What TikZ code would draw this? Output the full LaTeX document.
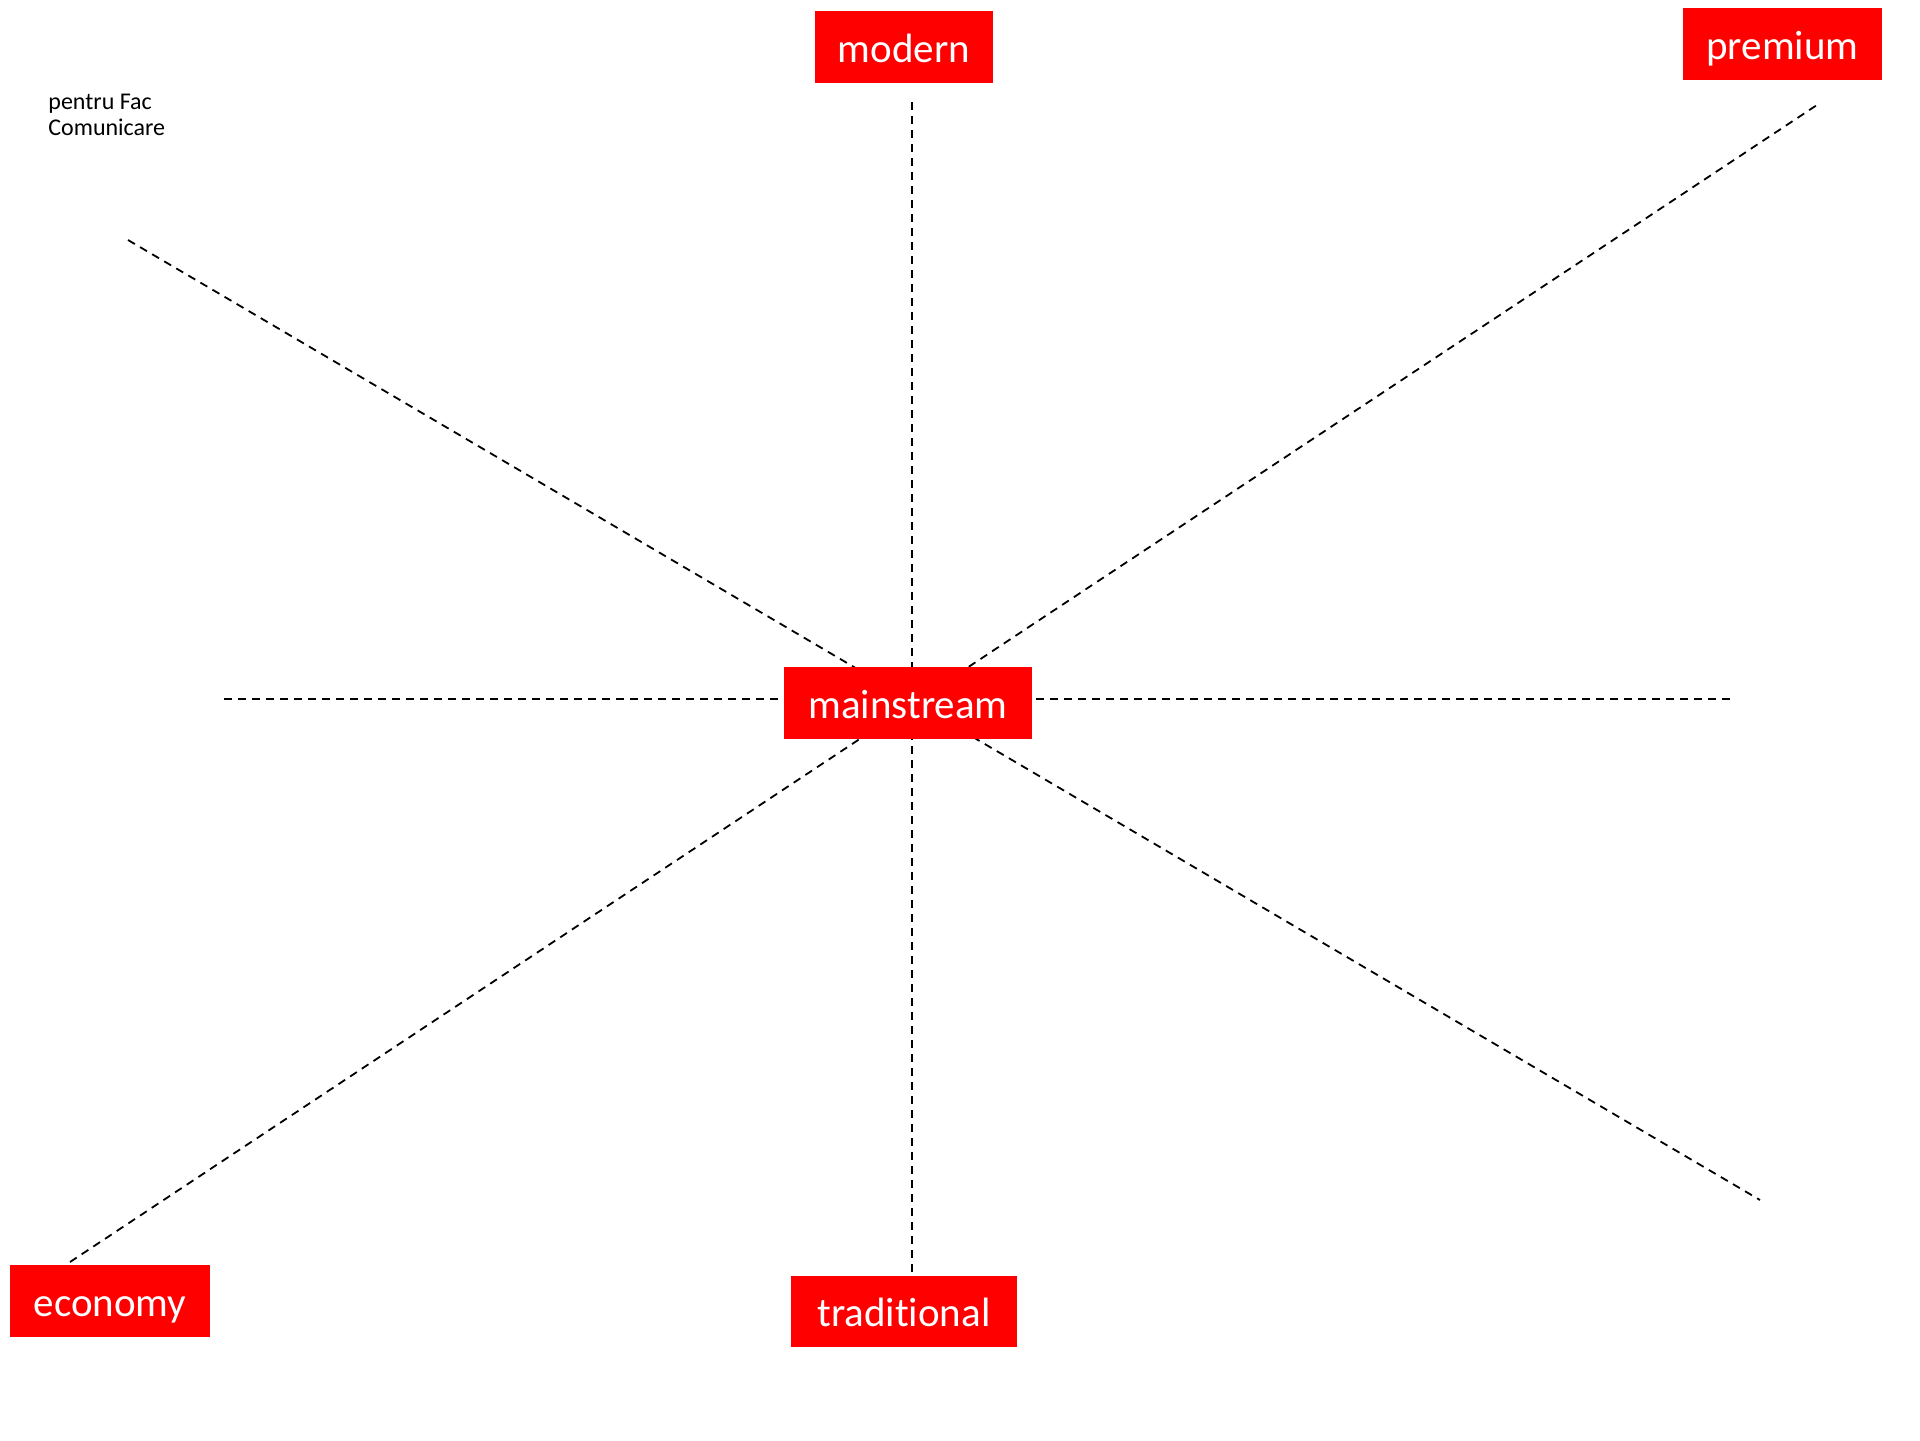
\documentclass[tikz,border=0pt]{standalone}
\usepackage{fontspec}
\setmainfont{Carlito}[RawFeature=-liga]
\definecolor{boxred}{HTML}{FF0000}
\begin{document}
\begin{tikzpicture}[x=0.5pt,y=-0.5pt,
  tag/.style={fill=boxred, text=white, inner sep=0pt, font=\fontsize{20.5}{24}\selectfont,
    text height=17pt, text depth=2pt},
  axis/.style={line width=0.9pt, dash pattern=on 4pt off 3pt}]
\useasboundingbox[fill=white] (0,0) rectangle (1920,1440);
% line end points
\coordinate (ulA) at (128,240);
\coordinate (lrA) at (1760,1200);
\coordinate (llA) at (70,1262);
\coordinate (urA) at (1820,103);
\coordinate (hL) at (224,699);
\coordinate (hR) at (1730,699);
\coordinate (vT) at (912,102);
\coordinate (vB) at (912,1272);
\draw[axis] (ulA) -- (lrA);
\draw[axis] (llA) -- (urA);
\draw[axis] (hL) -- (hR);
\draw[axis] (vT) -- (vB);
% boxes
\node[tag, minimum width=89pt, minimum height=36pt] (modern) at (904,47) {modern};
\node[tag, minimum width=124pt, minimum height=36pt] (mainstream) at (908,703) {mainstream};
\node[tag, minimum width=99.5pt, minimum height=36pt] (premium) at (1782.5,44) {premium};
\node[tag, minimum width=100pt, minimum height=36pt] (economy) at (110,1301) {economy};
\node[tag, minimum width=113pt, minimum height=35.5pt] (traditional) at (904,1311.5) {traditional};
\node[anchor=base west, inner sep=0pt, align=left, font=\fontsize{12}{13}\selectfont] (note) at (48,135) {pentru Fac\\Comunicare};
\end{tikzpicture}
\end{document}
